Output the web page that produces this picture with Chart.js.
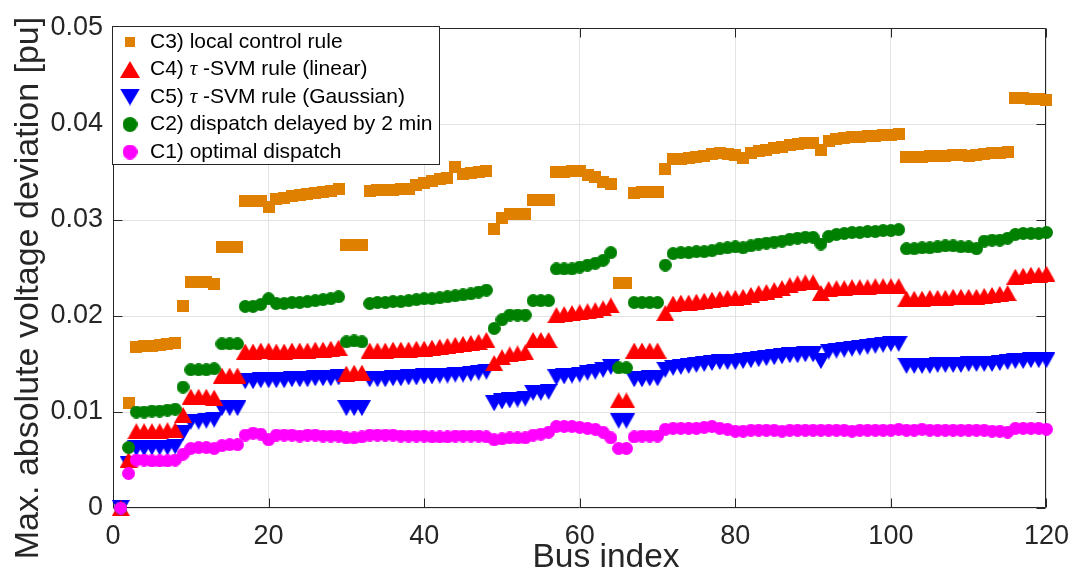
<!DOCTYPE html>
<html>
<head>
<meta charset="utf-8">
<title>Max. absolute voltage deviation</title>
<script src="https://cdn.jsdelivr.net/npm/chart.js@4.4.0/dist/chart.umd.min.js"></script>
<style>
  html, body { margin: 0; padding: 0; background: #fff; }
  #chart { display: block; }
</style>
</head>
<body>
<canvas id="chart" width="1081" height="571"></canvas>
<script>
// Bus-Index 1..120 (x-Achse)
const busIndex = Array.from({ length: 120 }, (_, i) => i + 1);

// Achsen-Ticks
const xTicks = [0, 20, 40, 60, 80, 100, 120];
const yTicks = [0, 0.01, 0.02, 0.03, 0.04, 0.05];

// Legenden-Texte (Reihenfolge wie im Original)
const legendLabels = [
  'C3) local control rule',
  'C4) τ -SVM rule (linear)',
  'C5) τ -SVM rule (Gaussian)',
  'C2) dispatch delayed by 2 min',
  'C1) optimal dispatch'
];

// C3) local control rule
const c3Local = [
  0, 0.0109, 0.0168, 0.0169, 0.0169, 0.0170, 0.0171, 0.0172, 0.0210, 0.0235,
  0.0235, 0.0235, 0.0233, 0.0272, 0.0272, 0.0272, 0.0320, 0.0320, 0.0320, 0.0314,
  0.0322, 0.0323, 0.0325, 0.0326, 0.0327, 0.0328, 0.0329, 0.0330, 0.0332, 0.0274,
  0.0274, 0.0274, 0.0330, 0.0331, 0.0331, 0.0331, 0.0332, 0.0332, 0.0336, 0.0339,
  0.0341, 0.0343, 0.0344, 0.0355, 0.0348, 0.0349, 0.0350, 0.0351, 0.0291, 0.0302,
  0.0306, 0.0306, 0.0306, 0.0321, 0.0321, 0.0321, 0.0350, 0.0350, 0.0351, 0.0351,
  0.0347, 0.0345, 0.0340, 0.0337, 0.0234, 0.0234, 0.0328, 0.0329, 0.0329, 0.0329,
  0.0353, 0.0364, 0.0364, 0.0365, 0.0366, 0.0367, 0.0369, 0.0370, 0.0369, 0.0368,
  0.0365, 0.0370, 0.0372, 0.0373, 0.0375, 0.0376, 0.0378, 0.0379, 0.0380, 0.0380,
  0.0373, 0.0382, 0.0384, 0.0385, 0.0386, 0.0386, 0.0387, 0.0388, 0.0389, 0.0389,
  0.0390, 0.0366, 0.0366, 0.0366, 0.0367, 0.0367, 0.0367, 0.0368, 0.0368, 0.0367,
  0.0368, 0.0369, 0.0370, 0.0370, 0.0371, 0.0427, 0.0427, 0.0426, 0.0426, 0.0425
];

// C4) tau-SVM rule (linear)
const c4SvmLinear = [
  0, 0.0050, 0.0080, 0.0080, 0.0080, 0.0080, 0.0081, 0.0081, 0.0097, 0.0116,
  0.0116, 0.0116, 0.0115, 0.0138, 0.0138, 0.0138, 0.0163, 0.0163, 0.0164, 0.0164,
  0.0163, 0.0163, 0.0164, 0.0164, 0.0164, 0.0165, 0.0165, 0.0166, 0.0167, 0.0140,
  0.0141, 0.0141, 0.0164, 0.0164, 0.0164, 0.0165, 0.0165, 0.0165, 0.0166, 0.0166,
  0.0167, 0.0168, 0.0169, 0.0170, 0.0171, 0.0172, 0.0173, 0.0175, 0.0151, 0.0157,
  0.0160, 0.0161, 0.0162, 0.0175, 0.0175, 0.0175, 0.0201, 0.0202, 0.0203, 0.0204,
  0.0205, 0.0206, 0.0208, 0.0211, 0.0112, 0.0112, 0.0164, 0.0164, 0.0164, 0.0164,
  0.0203, 0.0213, 0.0214, 0.0214, 0.0215, 0.0216, 0.0217, 0.0218, 0.0219, 0.0219,
  0.0220, 0.0222, 0.0224, 0.0225, 0.0227, 0.0229, 0.0232, 0.0234, 0.0235, 0.0235,
  0.0224, 0.0228, 0.0229, 0.0229, 0.0230, 0.0230, 0.0230, 0.0231, 0.0231, 0.0231,
  0.0231, 0.0218, 0.0218, 0.0218, 0.0219, 0.0219, 0.0219, 0.0220, 0.0220, 0.0220,
  0.0220, 0.0221, 0.0222, 0.0223, 0.0224, 0.0241, 0.0242, 0.0243, 0.0243, 0.0244
];

// C5) tau-SVM rule (Gaussian)
const c5SvmGauss = [
  0, 0.0046, 0.0062, 0.0062, 0.0063, 0.0063, 0.0063, 0.0064, 0.0078, 0.0090,
  0.0090, 0.0091, 0.0092, 0.0104, 0.0104, 0.0104, 0.0132, 0.0132, 0.0133, 0.0133,
  0.0133, 0.0133, 0.0134, 0.0134, 0.0134, 0.0135, 0.0135, 0.0135, 0.0136, 0.0104,
  0.0104, 0.0104, 0.0134, 0.0134, 0.0134, 0.0135, 0.0135, 0.0136, 0.0136, 0.0137,
  0.0137, 0.0138, 0.0138, 0.0139, 0.0139, 0.0140, 0.0141, 0.0142, 0.0109, 0.0111,
  0.0112, 0.0113, 0.0114, 0.0120, 0.0120, 0.0121, 0.0136, 0.0137, 0.0138, 0.0139,
  0.0141, 0.0142, 0.0144, 0.0147, 0.0091, 0.0091, 0.0134, 0.0134, 0.0135, 0.0135,
  0.0144, 0.0146, 0.0147, 0.0148, 0.0149, 0.0150, 0.0151, 0.0152, 0.0152, 0.0152,
  0.0153, 0.0154, 0.0155, 0.0156, 0.0157, 0.0158, 0.0159, 0.0159, 0.0160, 0.0160,
  0.0153, 0.0163, 0.0164, 0.0165, 0.0166, 0.0167, 0.0168, 0.0169, 0.0170, 0.0171,
  0.0171, 0.0148, 0.0148, 0.0148, 0.0148, 0.0149, 0.0149, 0.0149, 0.0149, 0.0150,
  0.0150, 0.0150, 0.0150, 0.0151, 0.0152, 0.0153, 0.0153, 0.0154, 0.0154, 0.0154
];

// C2) dispatch delayed by 2 min
const c2Delayed = [
  0, 0.0063, 0.0100, 0.0100, 0.0101, 0.0101, 0.0102, 0.0103, 0.0126, 0.0144,
  0.0144, 0.0144, 0.0145, 0.0171, 0.0171, 0.0171, 0.0210, 0.0210, 0.0212, 0.0218,
  0.0213, 0.0213, 0.0214, 0.0214, 0.0215, 0.0216, 0.0217, 0.0218, 0.0220, 0.0173,
  0.0174, 0.0173, 0.0213, 0.0214, 0.0214, 0.0215, 0.0215, 0.0216, 0.0217, 0.0218,
  0.0218, 0.0219, 0.0220, 0.0221, 0.0222, 0.0223, 0.0225, 0.0227, 0.0187, 0.0196,
  0.0201, 0.0201, 0.0201, 0.0216, 0.0216, 0.0216, 0.0249, 0.0249, 0.0249, 0.0251,
  0.0253, 0.0255, 0.0258, 0.0266, 0.0146, 0.0146, 0.0214, 0.0214, 0.0214, 0.0214,
  0.0253, 0.0265, 0.0266, 0.0266, 0.0267, 0.0267, 0.0268, 0.0270, 0.0271, 0.0272,
  0.0271, 0.0273, 0.0275, 0.0276, 0.0277, 0.0278, 0.0280, 0.0281, 0.0282, 0.0282,
  0.0275, 0.0283, 0.0285, 0.0286, 0.0287, 0.0287, 0.0288, 0.0288, 0.0289, 0.0289,
  0.0290, 0.0270, 0.0270, 0.0271, 0.0271, 0.0272, 0.0273, 0.0273, 0.0272, 0.0272,
  0.0270, 0.0278, 0.0279, 0.0279, 0.0281, 0.0285, 0.0286, 0.0286, 0.0286, 0.0287
];

// C1) optimal dispatch
const c1Optimal = [
  0, 0.0036, 0.0050, 0.0050, 0.0049, 0.0049, 0.0049, 0.0050, 0.0056, 0.0062,
  0.0063, 0.0063, 0.0062, 0.0065, 0.0066, 0.0066, 0.0076, 0.0078, 0.0077, 0.0071,
  0.0076, 0.0076, 0.0076, 0.0075, 0.0076, 0.0076, 0.0075, 0.0075, 0.0075, 0.0073,
  0.0073, 0.0074, 0.0076, 0.0076, 0.0076, 0.0076, 0.0075, 0.0075, 0.0075, 0.0075,
  0.0074, 0.0074, 0.0074, 0.0075, 0.0075, 0.0075, 0.0075, 0.0074, 0.0071, 0.0072,
  0.0073, 0.0073, 0.0073, 0.0076, 0.0077, 0.0079, 0.0085, 0.0085, 0.0085, 0.0084,
  0.0083, 0.0082, 0.0079, 0.0073, 0.0062, 0.0062, 0.0074, 0.0075, 0.0075, 0.0075,
  0.0082, 0.0083, 0.0083, 0.0083, 0.0083, 0.0084, 0.0085, 0.0083, 0.0082, 0.0080,
  0.0080, 0.0081, 0.0081, 0.0081, 0.0081, 0.0080, 0.0081, 0.0081, 0.0081, 0.0081,
  0.0081, 0.0081, 0.0081, 0.0081, 0.0080, 0.0081, 0.0081, 0.0081, 0.0081, 0.0081,
  0.0082, 0.0081, 0.0081, 0.0082, 0.0081, 0.0081, 0.0081, 0.0081, 0.0081, 0.0081,
  0.0081, 0.0081, 0.0080, 0.0080, 0.0079, 0.0083, 0.0083, 0.0083, 0.0083, 0.0082
];

// Marker als kleine Canvas-Bilder (MATLAB-artig, auf Bounding-Box zentriert)
function makeMarker(shape, color, w, h) {
    const c = document.createElement("canvas");
    c.width = w;
    c.height = h;
    const g = c.getContext("2d");
    g.fillStyle = color;
    g.beginPath();
    if (shape === "square") {
        g.rect(0, 0, w, h);
    } else if (shape === "up") {
        g.moveTo(w / 2, 0); g.lineTo(w, h); g.lineTo(0, h); g.closePath();
    } else if (shape === "down") {
        g.moveTo(0, 0); g.lineTo(w, 0); g.lineTo(w / 2, h); g.closePath();
    } else {
        g.arc(w / 2, h / 2, w / 2, 0, Math.PI * 2);
    }
    g.fill();
    return c;
}

const orange = "rgb(224,128,0)";
const series = [
    { data: c3Local,     color: orange,    shape: "square", size: [12, 12], legendSize: [10, 10], order: 4 },
    { data: c4SvmLinear, color: "#ff0000", shape: "up",     size: [18, 16], legendSize: [20, 17], order: 2 },
    { data: c5SvmGauss,  color: "#0000ff", shape: "down",   size: [18, 16], legendSize: [20, 17], order: 3 },
    { data: c2Delayed,   color: "#008000", shape: "circle", size: [13, 13], legendSize: [15, 15], order: 1 },
    { data: c1Optimal,   color: "#ff00ff", shape: "circle", size: [13, 13], legendSize: [15, 15], order: 0 }
];

const datasets = series.map((s, i) => ({
    label: legendLabels[i],
    data: busIndex.map((b, k) => ({ x: b, y: s.data[k] })),
    pointStyle: makeMarker(s.shape, s.color, s.size[0], s.size[1]),
    backgroundColor: s.color,
    borderColor: s.color,
    showLine: false,
    clip: false,
    order: s.order
}));

const axisColor = "#262626";
const tickFont = { family: "'Liberation Sans', Arial, sans-serif", size: 27 };

// Rahmen + nach innen zeigende Tick-Striche (unter den Daten)
const framePlugin = {
    id: "frame",
    beforeDatasetsDraw(chart) {
        const { ctx, chartArea: a, scales } = chart;
        const L = Math.round(a.left) + 0.5, R = Math.round(a.right) - 0.5;
        const T = Math.round(a.top) + 0.5, B = Math.round(a.bottom) - 0.5;
        const tl = 9;
        ctx.save();
        ctx.strokeStyle = axisColor;
        ctx.lineWidth = 1;
        ctx.beginPath();
        ctx.rect(L, T, R - L, B - T);
        xTicks.forEach(v => {
            const x = Math.round(scales.x.getPixelForValue(v)) + 0.5;
            ctx.moveTo(x, B); ctx.lineTo(x, B - tl);
            ctx.moveTo(x, T); ctx.lineTo(x, T + tl);
        });
        yTicks.forEach(v => {
            const y = Math.round(scales.y.getPixelForValue(v)) + 0.5;
            ctx.moveTo(L, y); ctx.lineTo(L + tl, y);
            ctx.moveTo(R, y); ctx.lineTo(R - tl, y);
        });
        ctx.stroke();
        ctx.restore();
    }
};

// Legende im Plotbereich oben links
const legendPlugin = {
    id: "boxLegend",
    afterDatasetsDraw(chart) {
        const ctx = chart.ctx;
        const bx = 112, by = 26, bw = 328, bh = 139;
        ctx.save();
        ctx.fillStyle = "#fff";
        ctx.fillRect(bx, by, bw, bh);
        ctx.strokeStyle = axisColor;
        ctx.lineWidth = 1;
        ctx.strokeRect(bx + 0.5, by + 0.5, bw - 1, bh - 1);
        ctx.textBaseline = "middle";
        ctx.fillStyle = "#000";
        series.forEach((s, i) => {
            const y = 42 + i * 27.5;
            const m = makeMarker(s.shape, s.color, s.legendSize[0], s.legendSize[1]);
            ctx.drawImage(m, 130 - m.width / 2, y - m.height / 2);
            let x = 150;
            legendLabels[i].split(/(τ)/).forEach(part => {
                if (!part) return;
                ctx.font = part === "τ"
                    ? "italic 21px 'Liberation Serif', serif"
                    : "21px 'Liberation Sans', Arial, sans-serif";
                ctx.fillText(part, x, y);
                x += ctx.measureText(part).width;
            });
        });
        ctx.restore();
    }
};

// Achsentitel
const titlePlugin = {
    id: "axisTitles",
    afterDraw(chart) {
        const ctx = chart.ctx;
        ctx.save();
        ctx.fillStyle = axisColor;
        ctx.textAlign = "center";
        ctx.textBaseline = "alphabetic";
        ctx.font = "33.5px 'Liberation Sans', Arial, sans-serif";
        ctx.fillText("Bus index", 606, 567);
        ctx.font = "34px 'Liberation Sans', Arial, sans-serif";
        ctx.translate(38, 288);
        ctx.rotate(-Math.PI / 2);
        ctx.fillText("Max. absolute voltage deviation [pu]", 0, 0);
        ctx.restore();
    }
};

const ctx = document.getElementById("chart").getContext("2d");
new Chart(ctx, {
    type: "scatter",
    data: { datasets: datasets },
    options: {
        responsive: false,
        animation: false,
        layout: { padding: { top: 28, right: 28, left: 0, bottom: 0 } },
        plugins: {
            legend: { display: false },
            tooltip: { enabled: false }
        },
        scales: {
            x: {
                type: "linear",
                min: 0,
                max: 120,
                afterBuildTicks: s => { s.ticks = xTicks.map(v => ({ value: v })); },
                afterFit: s => { s.height = 63; },
                ticks: { color: axisColor, font: tickFont, padding: 12, maxRotation: 0 },
                grid: { color: "#e3e3e3", drawTicks: false },
                border: { display: false }
            },
            y: {
                type: "linear",
                min: 0,
                max: 0.05,
                afterBuildTicks: s => { s.ticks = yTicks.map(v => ({ value: v })); },
                afterFit: s => { s.width = 113; },
                ticks: {
                    color: axisColor,
                    font: tickFont,
                    padding: 10,
                    callback: v => (v === 0 ? "0" : v.toFixed(2))
                },
                grid: { color: "#e3e3e3", drawTicks: false },
                border: { display: false }
            }
        }
    },
    plugins: [framePlugin, legendPlugin, titlePlugin]
});
</script>
</body>
</html>
